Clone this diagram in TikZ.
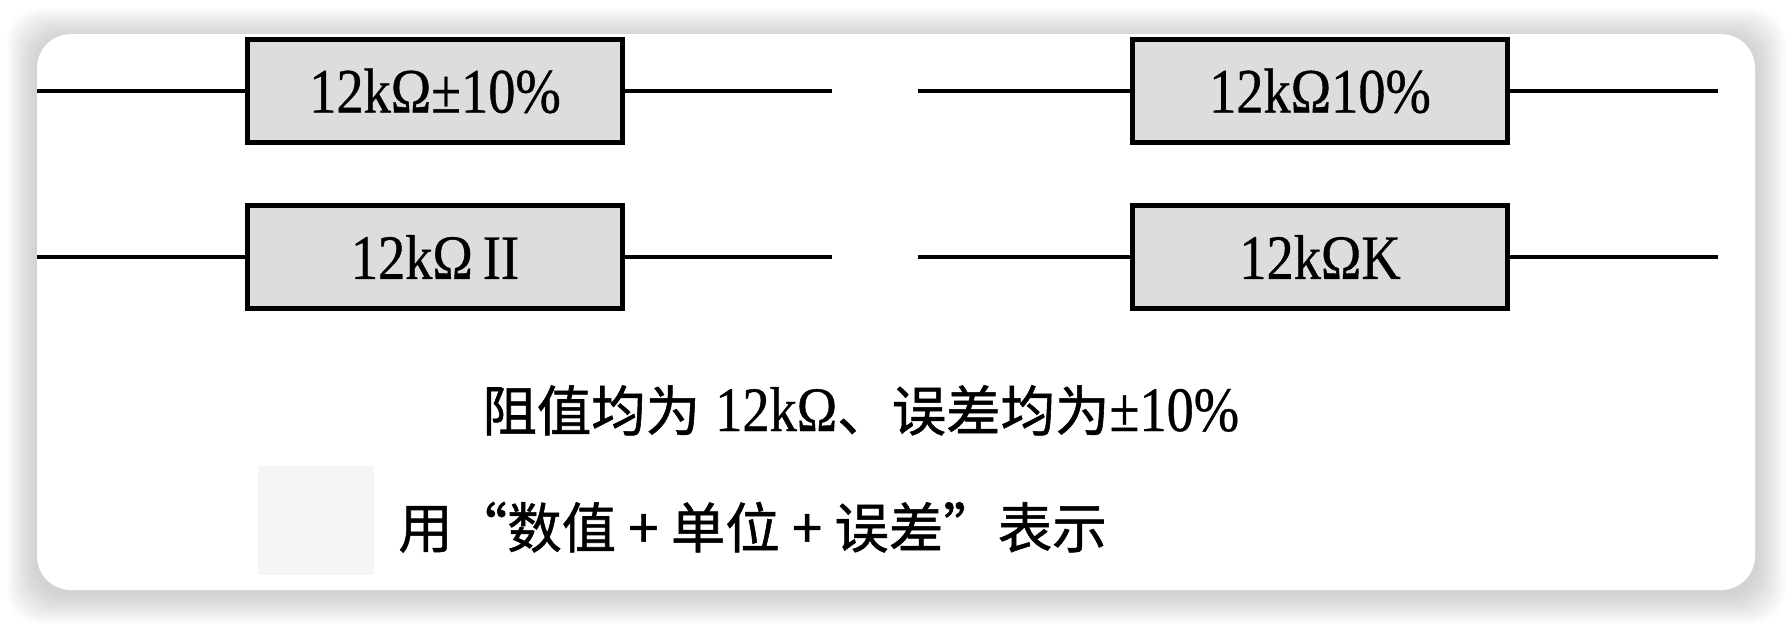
\documentclass[tikz,border=0pt]{standalone}
\usepackage{fontspec}
\newfontfamily\cjk[FakeBold=1]{Noto Sans CJK SC}
\newfontfamily\resfont[FakeStretch=0.86,FakeBold=0.6]{Liberation Serif}
\usetikzlibrary{positioning}
\definecolor{resgray}{RGB}{221,221,221}
\newcommand\valfont{\resfont\fontsize{36}{40}\selectfont}
\newcommand\hanfont{\cjk\fontsize{31}{35}\selectfont}
\tikzset{
  resbox/.style={draw=black,line width=0.1cm,fill=resgray,minimum width=7.5cm,minimum height=2.07cm,inner sep=0pt,font=\valfont},
  wire/.style={line width=0.07cm},
  caption/.style={anchor=base west,inner sep=0pt,font=\hanfont}
}
\begin{document}
\begin{tikzpicture}[x=0.02cm,y=-0.02cm]
\useasboundingbox (0,0) rectangle (1792,626);
% card with soft shadow
\foreach \i in {1,...,12}
  \fill[black,opacity=0.014,rounded corners=0.68cm] (37-\i*2.5,38-\i*2.5) rectangle (1755+\i*2.5,594+\i*2.5);
\fill[white,rounded corners=0.68cm] (37,34) rectangle (1755,590);
% resistors
\node[resbox] (ra) at (435,91) {12kΩ±10\%\hspace{0.15cm}};
\node[resbox] (rb) at (1320,91) {12kΩ10\%};
\node[resbox] (rc) at (435,257) {12kΩ\hspace{0.2cm}II\hspace{0.15cm}};
\node[resbox] (rd) at (1320,257) {12kΩK};
\coordinate (a1) at (37,91);   \coordinate (a2) at (832,91);
\coordinate (b1) at (918,91);  \coordinate (b2) at (1718,91);
\coordinate (c1) at (37,257);  \coordinate (c2) at (832,257);
\coordinate (d1) at (918,257); \coordinate (d2) at (1718,257);
\draw[wire] (a1)--(ra.west) (ra.east)--(a2);
\draw[wire] (b1)--(rb.west) (rb.east)--(b2);
\draw[wire] (c1)--(rc.west) (rc.east)--(c2);
\draw[wire] (d1)--(rd.west) (rd.east)--(d2);
% captions
\node[caption] (sum) at (482,431) {阻值均为\hspace{0.3cm}{\valfont 12kΩ}、误差均为{\valfont ±10\%}};
\fill[gray!8] (258,466) rectangle (374,575);
\node[caption] (rule) at (398,548) {用“数值 + 单位 + 误差”表示};
\end{tikzpicture}
\end{document}
